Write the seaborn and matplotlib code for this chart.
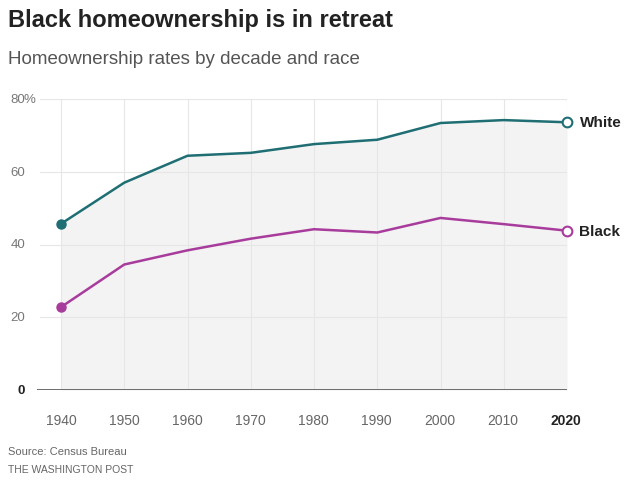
import matplotlib
matplotlib.use("Agg")
import matplotlib.pyplot as plt
import seaborn as sns
import pandas as pd

# Homeownership rates by decade (percent)
decades = [1940, 1950, 1960, 1970, 1980, 1990, 2000, 2010, 2020]
white_rate = [45.7, 57.0, 64.4, 65.2, 67.6, 68.8, 73.4, 74.2, 73.6]
black_rate = [22.8, 34.5, 38.4, 41.6, 44.2, 43.3, 47.3, 45.6, 43.8]
race_labels = ["White", "Black"]
y_ticks = [0, 20, 40, 60, 80]

TEAL = "#1e6e73"
MAGENTA = "#a83c9c"

df = pd.DataFrame({
    "year": decades * 2,
    "rate": white_rate + black_rate,
    "race": [race_labels[0]] * len(decades) + [race_labels[1]] * len(decades),
})

sns.set_style("white")
plt.rcParams["font.family"] = ["Liberation Sans", "DejaVu Sans"]

fig = plt.figure(figsize=(6.26, 4.81), dpi=100)
ax = fig.add_axes([37 / 626, 90 / 481, (567 - 37) / 626, (391 - 100) / 481])

# shaded area under the upper series
ax.fill_between(decades, 0, white_rate, color="#f3f3f3", zorder=0, linewidth=0)

# grid
for y in y_ticks[1:]:
    ax.axhline(y, xmin=0.006, color="#e6e6e6", lw=0.8, zorder=1)
for x in decades:
    ax.axvline(x, color="#e6e6e6", lw=0.8, zorder=1)

sns.lineplot(data=df, x="year", y="rate", hue="race",
             palette={"White": TEAL, "Black": MAGENTA},
             linewidth=1.8, legend=False, ax=ax, zorder=3)

# endpoints: filled at start, open at end
for vals, col in [(white_rate, TEAL), (black_rate, MAGENTA)]:
    ax.plot(decades[0], vals[0], "o", color=col, ms=6.5, zorder=4, clip_on=False)
    ax.plot(decades[-1], vals[-1], "o", mfc="white", mec=col, mew=1.5, ms=7,
            zorder=4, clip_on=False)

ax.axhline(0, color="#555555", lw=1.2, zorder=5)

ax.set_xlim(1936.2, 2020)
ax.set_ylim(0, 80)
for s in ax.spines.values():
    s.set_visible(False)
ax.set_xticks([])
ax.set_yticks([])
ax.set_xlabel("")
ax.set_ylabel("")

# y labels
for y in y_ticks:
    yp = 391 - y * (291 / 80)
    if y == 0:
        fig.text(25 / 626, 1 - yp / 481, "0", ha="right", va="center",
                 fontsize=9.5, fontweight="bold", color="#222222")
    else:
        fig.text(25 / 626, 1 - yp / 481, str(y), ha="right", va="center",
                 fontsize=9.5, color="#777777")
fig.text(24 / 626, 1 - 100 / 481, "%", ha="left", va="center",
         fontsize=9.5, color="#777777")

# x labels
for d in decades:
    xp = 61 + (d - 1940) * (505 / 80)
    fig.text(xp / 626, 1 - 421 / 481, str(d), ha="center", va="center",
             fontsize=10, color="#222222" if d == 2020 else "#666666",
             fontweight="bold" if d == 2020 else "normal")

# series labels
for lab, vals in zip(race_labels, [white_rate, black_rate]):
    ax.annotate(lab, (decades[-1], vals[-1]), xytext=(9, 0),
                textcoords="offset points", ha="left", va="center",
                fontsize=11, fontweight="bold", color="#222222",
                annotation_clip=False)

fig.text(8 / 626, 1 - 20 / 481, "Black homeownership is in retreat",
         ha="left", va="center", fontsize=17, fontweight="bold", color="#222222")
fig.text(8 / 626, 1 - 59 / 481, "Homeownership rates by decade and race",
         ha="left", va="center", fontsize=13.5, color="#555555")
fig.text(8 / 626, 1 - 452 / 481, "Source: Census Bureau",
         ha="left", va="center", fontsize=8, color="#666666")
fig.text(8 / 626, 1 - 470 / 481, "THE WASHINGTON POST",
         ha="left", va="center", fontsize=7.5, color="#666666")

fig.savefig("out.png", dpi=100, facecolor="white")
